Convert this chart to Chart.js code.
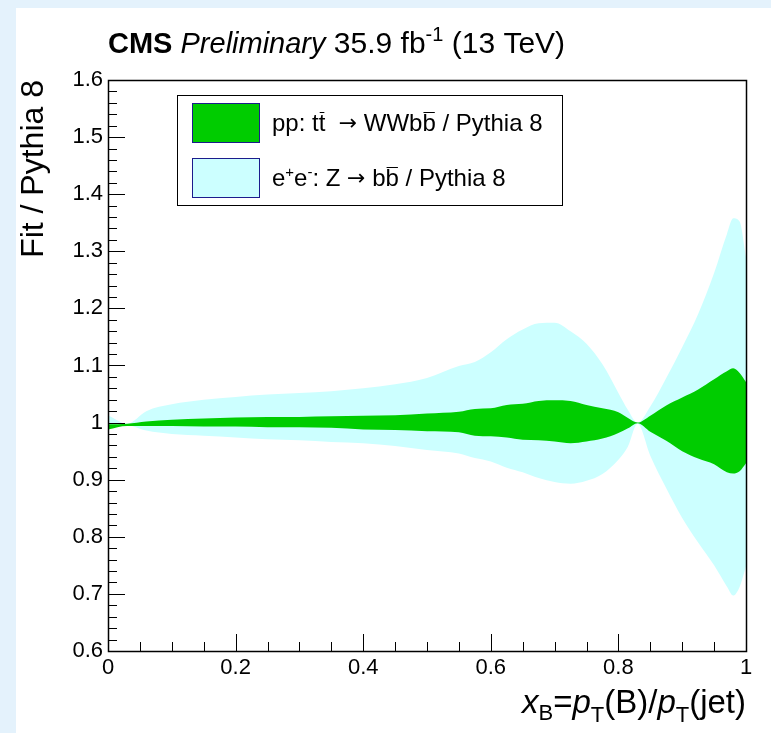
<!DOCTYPE html>
<html lang="en">
<head>
  <meta charset="UTF-8">
  <title>Fit / Pythia 8</title>
  <script src="https://cdn.jsdelivr.net/npm/chart.js@4.4.2/dist/chart.umd.min.js"></script>
  <style>
    html, body { margin: 0; padding: 0; background: #e4f2fc; }
    canvas { display: block; }
  </style>
</head>
<body>
<canvas id="myChart" width="771" height="733"></canvas>
<script>
// x_B sample points and band edges
const xs   = [0, 0.03, 0.06, 0.1, 0.15, 0.2, 0.25, 0.3, 0.35, 0.4, 0.45, 0.5, 0.55, 0.575, 0.6, 0.625, 0.65, 0.675, 0.7, 0.725, 0.75, 0.775, 0.8, 0.815, 0.83, 0.85, 0.875, 0.9, 0.925, 0.95, 0.97, 0.98, 0.99, 1.0];
// pp: ttbar band (green)
const ttUp = [0.997, 0.998, 1.002, 1.005, 1.007, 1.009, 1.010, 1.010, 1.011, 1.012, 1.013, 1.016, 1.019, 1.024, 1.025, 1.031, 1.033, 1.038, 1.039, 1.038, 1.031, 1.025, 1.018, 1.008, 1.000, 1.012, 1.030, 1.044, 1.058, 1.076, 1.090, 1.095, 1.087, 1.071];
const ttLo = [0.988, 0.994, 0.994, 0.994, 0.993, 0.993, 0.992, 0.992, 0.991, 0.988, 0.987, 0.985, 0.983, 0.977, 0.976, 0.974, 0.970, 0.969, 0.967, 0.964, 0.967, 0.972, 0.982, 0.990, 0.999, 0.984, 0.968, 0.950, 0.937, 0.927, 0.913, 0.911, 0.915, 0.929];
// e+e-: Z -> bb band (light cyan)
const eeUp = [1.013, 0.998, 1.020, 1.032, 1.040, 1.045, 1.049, 1.052, 1.055, 1.060, 1.067, 1.078, 1.099, 1.106, 1.123, 1.146, 1.163, 1.174, 1.175, 1.160, 1.138, 1.102, 1.052, 1.022, 1.000, 1.028, 1.078, 1.132, 1.190, 1.262, 1.330, 1.358, 1.352, 1.290];
const eeLo = [0.995, 0.995, 0.986, 0.980, 0.977, 0.974, 0.971, 0.969, 0.966, 0.964, 0.959, 0.952, 0.946, 0.938, 0.932, 0.921, 0.913, 0.903, 0.896, 0.893, 0.898, 0.910, 0.935, 0.958, 0.998, 0.942, 0.885, 0.833, 0.790, 0.750, 0.713, 0.697, 0.712, 0.748];

const yTicks = [0.6, 0.7, 0.8, 0.9, 1.0, 1.1, 1.2, 1.3, 1.4, 1.5, 1.6];
const xTicks = [0, 0.2, 0.4, 0.6, 0.8, 1.0];

const GREEN = '#00cc00';
const CYAN = '#ccffff';
const FONT = '"Liberation Sans", Arial, Helvetica, sans-serif';
const ARROW_FONT = '"DejaVu Sans", sans-serif';

const pts = arr => xs.map((x, i) => ({ x: x, y: arr[i] }));
const fmt = v => String(+Number(v).toFixed(2));

// draws a run of text pieces; each piece can be bold/italic, raised/lowered, or overlined
function drawRich(ctx, parts, x, y, align) {
  let total = 0;
  const fontOf = p => (p.style || '') + ' ' + p.size + 'px ' + (p.fam || FONT);
  parts.forEach(p => {
    ctx.font = fontOf(p);
    p.w = ctx.measureText(p.t).width;
    total += p.w;
  });
  let cx = align === 'right' ? x - total : x;
  ctx.textAlign = 'left';
  ctx.textBaseline = 'alphabetic';
  parts.forEach(p => {
    ctx.font = fontOf(p);
    ctx.fillText(p.t, cx, y + (p.dy || 0));
    if (p.bar) {
      const by = Math.round(y - p.size * 0.8) + 0.5;
      ctx.beginPath();
      ctx.lineWidth = 1;
      ctx.moveTo(cx + 1, by);
      ctx.lineTo(cx + p.w - 1, by);
      ctx.stroke();
    }
    cx += p.w;
  });
}

const pageBg = {
  id: 'pageBg',
  beforeDraw(chart) {
    const ctx = chart.ctx;
    ctx.save();
    ctx.fillStyle = '#e4f2fc';
    ctx.fillRect(0, 0, chart.width, chart.height);
    ctx.fillStyle = '#ffffff';
    ctx.fillRect(16, 8, chart.width - 16, chart.height - 8);
    ctx.restore();
  }
};

// ROOT style frame with inward ticks
const frameTicks = {
  id: 'frameTicks',
  afterDatasetsDraw(chart) {
    const { ctx, chartArea: a, scales: { x, y } } = chart;
    ctx.save();
    ctx.strokeStyle = '#000';
    ctx.lineWidth = 1;
    ctx.beginPath();
    for (let i = 0; i <= 50; i++) {
      const py = Math.round(y.getPixelForValue(0.6 + i * 0.02)) + 0.5;
      const len = i % 5 === 0 ? 17 : 9;
      ctx.moveTo(a.left, py);
      ctx.lineTo(a.left + len, py);
    }
    for (let i = 0; i <= 20; i++) {
      const px = Math.round(x.getPixelForValue(i * 0.05)) + 0.5;
      const len = i % 4 === 0 ? 17 : 9;
      ctx.moveTo(px, a.bottom);
      ctx.lineTo(px, a.bottom - len);
    }
    ctx.stroke();
    ctx.lineWidth = 1.5;
    ctx.strokeRect(Math.round(a.left) + 0.5, Math.round(a.top) + 0.5, Math.round(a.width), Math.round(a.height));
    ctx.restore();
  }
};

const texts = {
  id: 'texts',
  afterDraw(chart) {
    const ctx = chart.ctx;
    const a = chart.chartArea;
    ctx.save();
    ctx.fillStyle = '#000';
    ctx.strokeStyle = '#000';

    // header
    drawRich(ctx, [
      { t: 'CMS', style: 'bold', size: 29 },
      { t: ' Preliminary', style: 'italic', size: 29 },
      { t: ' 35.9 fb', size: 30 },
      { t: '-1', size: 20, dy: -12 },
      { t: ' (13 TeV)', size: 30 }
    ], a.left, 53, 'left');

    // y title
    ctx.save();
    ctx.translate(43, a.top);
    ctx.rotate(-Math.PI / 2);
    ctx.font = '32px ' + FONT;
    ctx.textAlign = 'right';
    ctx.textBaseline = 'alphabetic';
    ctx.fillText('Fit / Pythia 8', 0, 0);
    ctx.restore();

    // x title
    drawRich(ctx, [
      { t: 'x', style: 'italic', size: 33 },
      { t: 'B', size: 22, dy: 7 },
      { t: '=', size: 33 },
      { t: 'p', style: 'italic', size: 33 },
      { t: 'T', size: 22, dy: 9 },
      { t: '(B)/', size: 33 },
      { t: 'p', style: 'italic', size: 33 },
      { t: 'T', size: 22, dy: 9 },
      { t: '(jet)', size: 33 }
    ], a.right, 713, 'right');

    // legend
    const ds = chart.data.datasets;
    ctx.lineWidth = 1;
    ctx.strokeRect(177.5, 95.5, 385, 110);
    ctx.fillStyle = ds[1].backgroundColor;
    ctx.fillRect(192, 103, 67, 39);
    ctx.fillStyle = ds[3].backgroundColor;
    ctx.fillRect(192, 158, 67, 39);
    ctx.strokeStyle = '#1c1c8c';
    ctx.strokeRect(192.5, 103.5, 67, 39);
    ctx.strokeRect(192.5, 158.5, 67, 39);
    ctx.fillStyle = '#000';
    ctx.strokeStyle = '#000';
    drawRich(ctx, [
      { t: 'pp: t', size: 24 },
      { t: 't', size: 24, bar: true },
      { t: '  ', size: 24 },
      { t: '\u2192', size: 22, fam: ARROW_FONT, dy: -1 },
      { t: ' WWb', size: 24 },
      { t: 'b', size: 24, bar: true },
      { t: ' / Pythia 8', size: 24 }
    ], 272, 131, 'left');
    drawRich(ctx, [
      { t: 'e', size: 24 },
      { t: '+', size: 15, dy: -9 },
      { t: 'e', size: 24 },
      { t: '-', size: 15, dy: -9 },
      { t: ': Z ', size: 24 },
      { t: '\u2192', size: 22, fam: ARROW_FONT, dy: -1 },
      { t: ' b', size: 24 },
      { t: 'b', size: 24, bar: true },
      { t: ' / Pythia 8', size: 24 }
    ], 272, 186, 'left');
    ctx.restore();
  }
};

const band = (arr, color, fill) => ({
  data: pts(arr),
  borderWidth: 0,
  borderColor: color,
  backgroundColor: color,
  pointRadius: 0,
  cubicInterpolationMode: 'monotone',
  fill: fill
});

const ctx = document.getElementById('myChart').getContext('2d');
const myChart = new Chart(ctx, {
  type: 'line',
  data: {
    datasets: [
      band(ttUp, GREEN, false),
      band(ttLo, GREEN, '-1'),
      band(eeUp, CYAN, false),
      band(eeLo, CYAN, '-1')
    ]
  },
  options: {
    responsive: false,
    animation: false,
    layout: { padding: { left: 0, top: 80, right: 25, bottom: 0 } },
    plugins: {
      legend: { display: false },
      tooltip: { enabled: false }
    },
    scales: {
      x: {
        type: 'linear',
        min: 0,
        max: 1,
        afterBuildTicks: s => { s.ticks = xTicks.map(v => ({ value: v })); },
        afterFit: s => { s.height = 82; },
        ticks: { color: '#000', font: { family: FONT, size: 22 }, padding: 4, maxRotation: 0, callback: fmt },
        grid: { display: false, drawTicks: false },
        border: { display: false }
      },
      y: {
        min: 0.6,
        max: 1.6,
        afterBuildTicks: s => { s.ticks = yTicks.map(v => ({ value: v })); },
        afterFit: s => { s.width = 108; },
        ticks: { color: '#000', font: { family: FONT, size: 22 }, padding: 5, callback: fmt },
        grid: { display: false, drawTicks: false },
        border: { display: false }
      }
    }
  },
  plugins: [pageBg, frameTicks, texts]
});
</script>
</body>
</html>
